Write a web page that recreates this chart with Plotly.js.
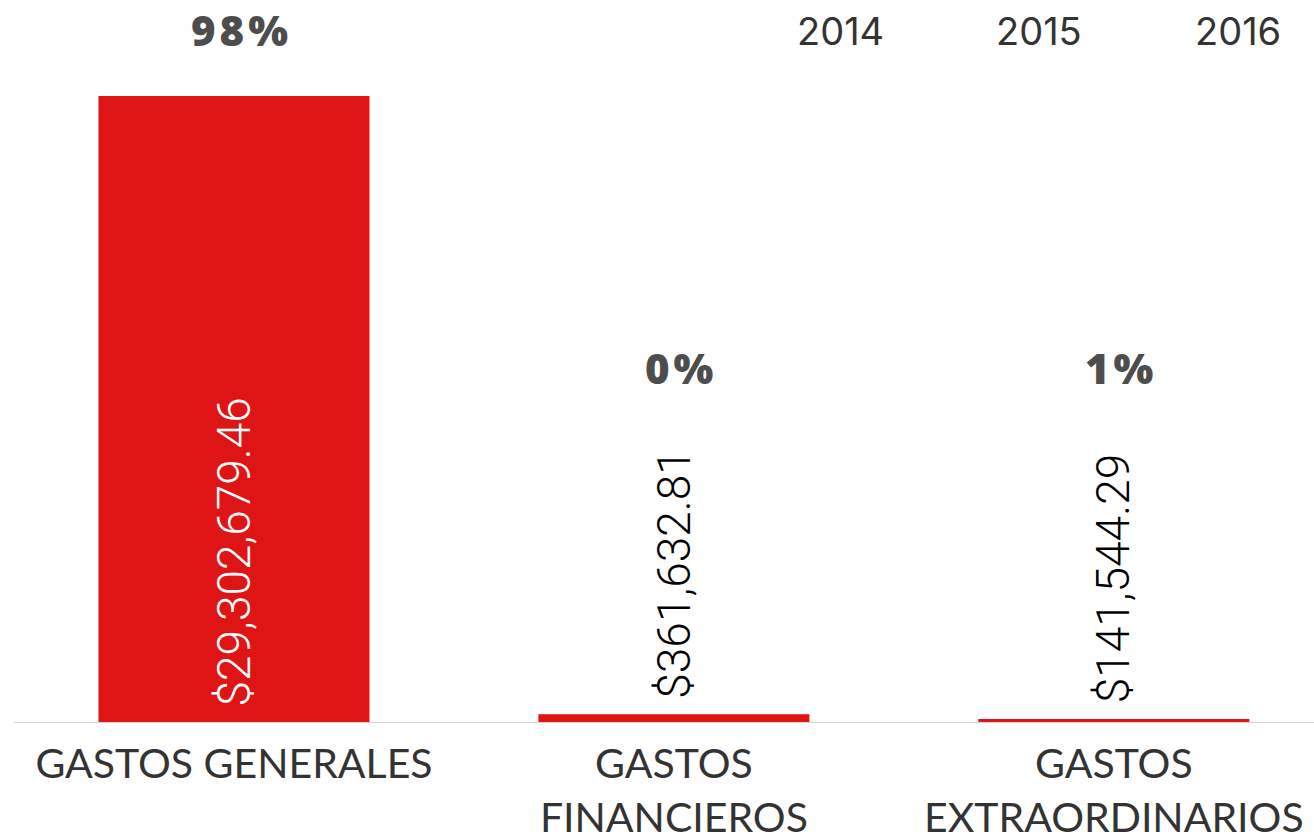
<!DOCTYPE html>
<html>
<head>
<meta charset="utf-8">
<script src="https://cdn.plot.ly/plotly-3.0.1.min.js"></script>
<style>
html,body{margin:0;padding:0;background:#fff;}
#chart{width:1314px;height:838px;}
</style>
</head>
<body>
<div id="chart"></div>
<script>
const categories = ['GASTOS<br>GENERALES', 'GASTOS<br>FINANCIEROS', 'GASTOS<br>EXTRAORDINARIOS'];
const categoryLabels = ['GASTOS GENERALES', 'GASTOS<br>FINANCIEROS', 'GASTOS<br>EXTRAORDINARIOS'];
const values = [29302679.46, 361632.81, 141544.29];
const percentLabels = ['98%', '0%', '1%'];
const years = ['2014', '2015', '2016'];

const fmt = v => '$' + v.toLocaleString('en-US', {minimumFractionDigits: 2, maximumFractionDigits: 2});
const maxVal = Math.max(...values);
const yMax = maxVal * 722 / 626;

const annotations = [];
values.forEach((v, i) => {
  const inside = v / maxVal > 0.5;
  annotations.push({
    x: categories[i], y: inside ? 0 : v, xref: 'x', yref: 'y',
    text: fmt(v), textangle: -90, showarrow: false,
    xanchor: 'center', yanchor: 'bottom', yshift: 14,
    font: {family: 'Roboto, Arial, sans-serif', size: 46, weight: 300, color: inside ? '#ffffff' : '#000000'}
  });
  annotations.push({
    x: categories[i], y: inside ? v : 0, xref: 'x', yref: 'y',
    text: percentLabels[i], showarrow: false,
    xanchor: 'center', yanchor: 'middle', xshift: 8, yshift: inside ? 67 : 355,
    font: {family: '"Open Sans", sans-serif', size: 42, weight: 800, color: '#4d4d4d'}
  });
});
const yearX = [0.6354, 0.7885, 0.9415];
years.forEach((yr, i) => {
  annotations.push({
    x: yearX[i], y: 1 - 31 / 722, xref: 'paper', yref: 'paper',
    text: yr, showarrow: false, xanchor: 'center', yanchor: 'middle',
    font: {family: 'Inter, "Noto Sans", sans-serif', size: 38, color: '#333333'}
  });
});

const trace = {
  type: 'bar',
  x: categories,
  y: values,
  width: 0.616,
  marker: {color: '#df1515'},
  hoverinfo: 'none'
};

const layout = {
  width: 1314, height: 838,
  margin: {l: 14, r: 0, t: 0, b: 116},
  paper_bgcolor: '#ffffff', plot_bgcolor: '#ffffff',
  showlegend: false,
  xaxis: {
    type: 'category',
    range: [-0.5, 2.455],
    tickvals: categories,
    ticktext: categoryLabels,
    showgrid: false, zeroline: false,
    showline: true, linecolor: '#d3d3d3', linewidth: 1,
    ticks: '', ticklabelstandoff: 6,
    tickfont: {family: 'Lato, sans-serif', size: 41, color: '#333333'}
  },
  yaxis: {
    range: [0, yMax], visible: false, showgrid: false, zeroline: false, fixedrange: true
  },
  annotations: annotations
};

Plotly.newPlot('chart', [trace], layout, {displayModeBar: false, staticPlot: true}).then(() => {
  document.querySelectorAll('.annotation-text').forEach(el => {
    if (percentLabels.includes(el.textContent)) el.style.letterSpacing = '4px';
  });
});
</script>
</body>
</html>
